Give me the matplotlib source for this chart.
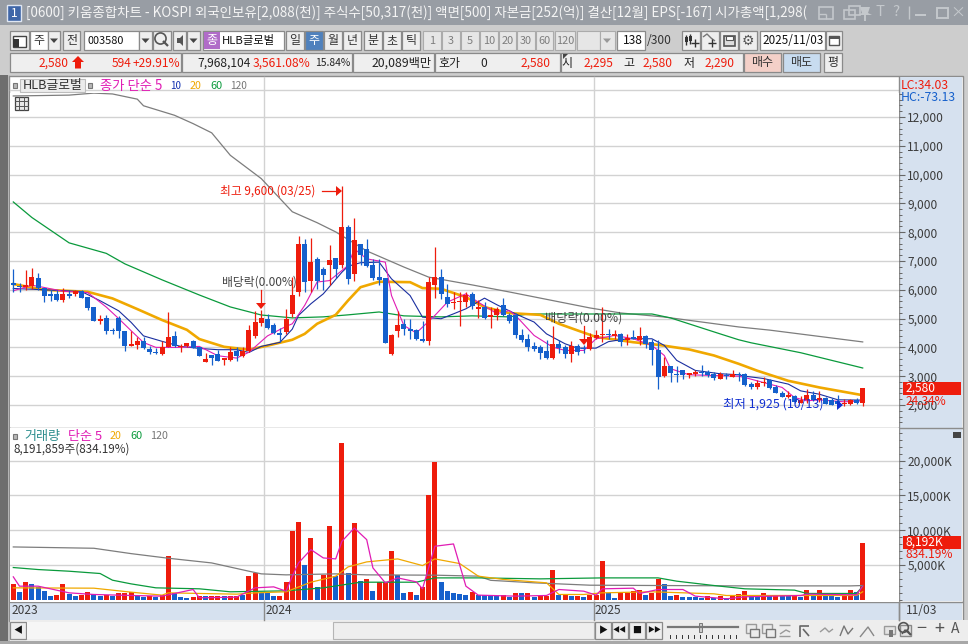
import matplotlib
matplotlib.use("Agg")
import matplotlib.pyplot as plt
from matplotlib.patches import Rectangle, Polygon
from matplotlib.ticker import FuncFormatter, MultipleLocator

plt.rcParams['font.family'] = ['Noto Sans CJK KR', 'DejaVu Sans']

# ---------- data: weekly candles ----------
opens = [6230,6115,6090,6140,6405,6060,5850,5850,5650,5850,5860,5950,5760,5400,4910,5020,4610,5020,4570,4050,
         4080,4230,3940,3830,3770,4000,4400,4010,4035,4210,4025,3490,3735,3760,3550,3570,3870,3700,3860,4380,
         4845,4990,4775,4500,4520,5155,5940,7600,6320,7075,6730,6845,7100,6845,8185,6555,7600,7425,6870,6440,
         6415,3755,4555,4800,4650,4610,4300,4210,6175,6440,5745,5525,5570,5585,5850,5350,5410,5050,5110,5470,
         5130,5130,4440,4300,4055,4020,3860,3640,4125,4010,3780,4055,3975,3950,4335,4415,4475,4380,4475,4240,
         4360,4240,4390,4185,3920,3000,3350,3070,3210,3050,3060,3140,3140,3080,2920,3040,2985,3060,3070,2725,
         2610,2780,2865,2610,2410,2270,2320,2085,2170,2340,2180,2260,2180,2155,2030,2020,2190,2060]
highs = [6716,6230,6690,6740,6580,6060,6000,6000,6060,6000,6000,6000,5760,5400,5120,5120,4690,5075,4570,4570,
         4350,4350,4035,3965,4230,5240,4580,4115,4140,4255,4025,3790,3735,3910,3630,4000,4000,4000,4775,5260,
         5295,5155,4845,4670,5330,6430,7860,7770,7790,7130,6790,7560,7100,9600,8260,8490,7600,7770,7075,7075,
         6415,4475,5250,5000,5000,4650,4900,6460,7480,6730,6200,5920,5920,5920,5920,5630,5570,5400,5400,5710,
         5200,5200,4640,4450,4200,4090,4240,4750,4240,4070,4230,4120,4070,4500,4600,5400,4640,4600,4500,4470,
         4590,4720,4440,4290,4240,3650,3350,3350,3210,3100,3210,3400,3210,3140,3140,3120,3220,3150,3100,2810,
         2870,2960,2900,2700,2500,2480,2340,2300,2540,2470,2480,2280,2240,2360,2200,2200,2260,2580]
lows = [5907,5930,6000,6020,6000,5580,5620,5620,5580,5710,5790,5720,5300,4900,4810,4460,4460,4320,3890,4040,
        3940,3940,3770,3770,3745,4000,4000,3830,4000,3965,3715,3480,3385,3540,3400,3540,3540,3680,3830,4310,
        4750,4640,4460,4175,4460,5040,5770,5920,5920,6035,5980,6170,6400,6750,6210,6290,6845,6790,6350,6170,
        4170,3720,4360,4415,4300,4250,4185,4100,5720,5690,5400,5340,4730,5400,5340,5020,5000,4680,4935,5090,
        4850,4340,4200,3860,3860,3580,3590,3600,3800,3640,3500,3740,3800,3900,4280,4200,4280,4300,4040,4070,
        4280,4100,3975,3400,2545,2960,2800,2800,2900,2950,3000,3000,2960,2880,2920,2920,2955,2850,2650,2560,
        2540,2650,2570,2400,2270,2240,2080,2060,2080,2130,2100,2020,2000,1925,1960,2000,2040,1970]
closes = [6160,6080,6160,6440,6060,5790,5790,5650,5850,5770,5950,5720,5360,4910,5000,4555,4555,4580,4050,4115,
          4230,3965,3825,3810,4000,4350,4035,4060,4140,3990,3715,3595,3630,3540,3630,3825,3710,3885,4600,4880,
          5010,4670,4510,4430,4980,5815,7600,6265,6960,6290,6520,7040,6730,8175,6380,7735,7215,6810,6415,6350,
          4170,4440,4785,4625,4580,4275,4210,6265,6440,5840,5515,5570,5620,5815,5430,5410,5030,5120,5330,5110,
          4910,4415,4265,4020,3950,3810,3640,4125,3985,3780,4035,3825,3930,4360,4440,4475,4415,4475,4185,4335,
          4280,4390,4125,3895,2960,3350,3120,3025,3025,3100,3140,3100,3025,2945,3080,2990,3060,3040,2700,2610,
          2780,2815,2585,2400,2270,2340,2110,2180,2340,2180,2240,2040,2015,2020,2075,2190,2065,2580]

ma5_idx = [0,3,5,8,12,15,17,19,21,23,27,30,33,36,38,41,44,45,47,49,51,54,55,57,60,61,63,65,68,70,73,75,78,80,81,82,84,87,89,92,94,97,100,103,105,106,109,117,118,121,124,126,128,130,134,137]
ma5_val = [5965,6160,6080,5950,5905,5400,5000,4580,4170,4000,4000,4035,3710,3630,3830,4400,4730,4820,5460,6270,6320,6845,7420,7075,6960,5800,4760,4500,5110,5570,5860,5570,5170,5280,5110,4880,4415,4010,3895,3895,4300,4415,4300,4070,3720,3260,3050,3000,2955,2780,2610,2260,2145,2180,2110,2145]
ma10_idx = [0,3,11,14,17,19,21,24,27,30,33,36,38,40,43,45,46,48,50,53,54,56,59,61,64,66,69,71,73,76,78,81,84,86,89,91,94,96,99,103,105,107,110,114,117,118,121,125,127,130,133,137]
ma10_val = [6045,6020,5940,5620,5270,4870,4400,4210,4035,3965,3920,3920,3825,4035,4175,4635,5110,5515,5860,6610,6820,6940,6960,6380,5800,5050,4995,5165,5340,5710,5480,5165,4880,4470,4125,3975,3975,4200,4300,4300,4070,3550,3200,3085,3050,3000,2920,2725,2490,2375,2180,2170]
ma20_idx = [0,3,5,12,16,20,24,28,30,34,38,41,45,47,49,52,54,56,59,64,66,69,73,76,80,85,88,91,94,97,100,104,109,113,117,120,125,130,137]
ma20_val = [6200,6080,6000,5930,5700,5330,4950,4610,4290,4020,3920,4060,4265,4470,4820,5130,5630,6090,6280,6265,6060,6035,5745,5400,5190,5130,4820,4590,4360,4275,4180,4090,3930,3720,3430,3190,2840,2610,2340]
ma60_idx = [0,3,9,15,18,24,30,35,40,45,50,54,59,63,69,74,80,83,103,106,114,117,119,127,137]
ma60_val = [9050,8510,7630,7265,6900,6345,5820,5405,5125,5025,5060,5130,5230,5095,5060,5095,5060,5160,5160,5025,4470,4265,4160,3815,3285]
ma120_idx = [0,9,13,16,20,21,26,29,32,35,40,45,49,52,57,63,67,74,80,93,98,105,117,122,137]
ma120_val = [12730,12760,12830,12800,12620,12390,12060,11770,11450,10670,9860,8710,8330,8010,7350,6790,6440,6170,5925,5370,5195,5055,4710,4600,4190]

volume = [2340,1050,2490,2200,1820,1200,480,620,2200,765,480,620,1050,765,480,720,480,910,910,1050,
          480,335,480,335,720,6360,1000,335,190,335,480,480,480,480,480,480,480,620,3490,3870,
          1000,910,480,480,2490,9940,11230,5070,8940,1910,3585,10660,3490,22560,3870,11090,2770,3060,1195,2490,
          2490,7070,3540,910,1050,620,1910,15100,19840,2490,1195,910,765,620,1050,720,670,480,480,620,
          430,910,910,910,380,480,570,4350,620,620,480,480,380,620,620,5640,910,190,910,910,
          1195,1480,620,1000,3060,2250,480,620,335,335,430,190,480,240,480,290,480,860,1195,570,
          670,910,480,620,480,480,720,430,1480,480,1480,480,480,335,720,1340,1050,8192]
vol_up = [1,0,1,0,0,0,0,1,1,0,0,1,1,0,0,1,0,1,1,1,
          0,0,1,0,1,1,0,0,0,1,1,0,1,1,0,1,1,0,1,1,
          0,0,0,1,1,1,1,0,1,0,1,1,0,1,0,1,0,1,0,1,
          1,1,0,0,1,0,1,1,1,0,0,0,0,0,1,0,0,0,0,1,
          0,1,0,1,0,1,1,1,0,1,0,1,0,1,1,1,0,0,1,1,
          1,1,0,1,1,0,0,1,0,0,0,0,1,0,1,0,1,1,1,0,
          0,1,0,1,0,0,1,0,1,0,1,0,0,0,1,1,0,1]

vma5_idx = [0,1,4,9,13,19,24,29,30,36,39,42,44,45,46,48,50,52,53,55,57,58,60,62,65,66,68,71,73,75,81,86,88,92,94,95,100,101,104,108,110,115,118,127,128,136,137]
vma5_val = [3300,1960,1960,1000,765,620,525,1480,290,380,1720,1860,1240,3390,5300,7220,6020,5880,8410,10320,8650,4590,2440,3150,2580,1580,7700,8030,1960,670,525,620,1480,1240,670,1580,1670,910,1480,1480,525,140,430,620,810,720,1960]
vma20_idx = [0,13,19,24,25,36,39,44,48,52,54,57,62,66,68,72,75,79,86,88,92,95,103,113,115,124,136,137]
vma20_val = [1720,1670,1100,670,1000,810,1000,1150,2530,3390,4730,5450,5880,4920,5880,5210,3400,2930,2440,765,765,1000,1150,860,620,620,620,1150]
vma60_idx = [0,4,9,14,16,19,23,30,35,44,50,56,65,68,75,85,95,104,107,113,118,126,128,136,137]
vma60_val = [4640,4350,4110,3780,2820,2290,1720,1580,1150,1290,1720,2530,2530,3150,3150,3010,3150,3150,2680,2055,1580,1390,910,910,1960]
vma120_idx = [0,13,19,25,32,38,40,44,52,57,68,75,77,84,93,117,135,137]
vma120_val = [7600,7410,6640,5975,5300,4110,3730,3585,3730,3585,3540,3400,2800,2440,2100,2000,2000,2050]

price_ticks = [2000,3000,4000,5000,6000,7000,8000,9000,10000,11000,12000]
volume_ticks = [5000,10000,15000,20000]
year_labels = ['2023','2024','2025']

RED='#ee1c0c'; BLUE='#1560cc'; MAG='#e01cb4'; NAVY='#1a2ea0'; GOLD='#f0a800'; GREEN='#0a9a3c'; GRAY='#7d7d7d'
GRID='#d2d2d2'; DARK='#3c3c3c'

W,H=968,644
fig=plt.figure(figsize=(W/100,H/100),dpi=100,facecolor='#cdcdcd')
rend=fig.canvas.get_renderer()

# ---------- window chrome in pixel coordinates ----------
c=fig.add_axes([0,0,1,1],zorder=0); c.set_xlim(0,W); c.set_ylim(H,0); c.axis('off')
def R(x0,y0,x1,y1,fc,ec='none',lw=0.8,z=1):
    c.add_patch(Rectangle((x0,y0),x1-x0,y1-y0,fc=fc,ec=ec,lw=lw,zorder=z))
def L(xs,ys,col='#555555',lw=1.0,z=6):
    c.plot(xs,ys,color=col,lw=lw,zorder=z,solid_capstyle='butt')
def T(x,y,s,col='#222222',w=None,px=12,ha='left',z=5,ax=None):
    t=(ax or c).text(x,y,s,color=col,fontsize=px*0.72,ha=ha,va='center',zorder=z)
    if w:
        e=t.get_window_extent(rend).width
        t.set_fontsize(px*0.72*w/e)
    return t
def B(x0,y0,x1,y1,s='',col='#333333',fc='#eeeeee',px=12):
    R(x0,y0,x1,y1,fc,'#8a8a8a',0.9)
    if s: T((x0+x1)/2,(y0+y1)/2,s,col,px=px,ha='center')
def DOWN(cx,cy,col='#444444'):
    c.add_patch(Polygon([(cx-4,cy-2),(cx+4,cy-2),(cx,cy+2.5)],fc=col,ec='none',zorder=6))
def LENS(cx,cy,col='#555555',r=8):
    c.plot([cx-2],[cy-2],marker='o',ms=r,mfc='none',mec=col,mew=1.2,zorder=6)
    L([cx+1,cx+6],[cy+1,cy+6],col,1.6)

R(0,0,W,25,'#989da4')
R(7,5,21,21,'#3f66a8','#dfe6f2',1.0)
T(14,13,'1','white',px=12,ha='center')
T(26,12.5,'[0600] 키움종합차트 - KOSPI 외국인보유[2,088(천)] 주식수[50,317(천)] 액면[500] 자본금[252(억)] 결산[12월] EPS[-167] 시가총액[1,298(','#f4f4f4',w=784)
IC='#c4c8cc'
R(819,7,833,19,'none',IC,1.2); L([819,826],[14,14],IC); L([826,826],[14,19],IC)
R(844,10,855,19,'none',IC,1.2); R(849,6,860,15,'none',IC,1.2)
c.add_patch(Polygon([(860,7),(870,7),(868,13),(872,15),(858,15),(862,13)],fc=IC,ec='none',zorder=6)); L([865,865],[15,21],IC,1.4)
T(880,12,'T',IC,px=15,ha='center',); T(896,12,'?',IC,px=15,ha='center')
L([909,909],[6,19],IC,1.0)
R(915,14,926,16,IC); R(937,8,948,18,'none',IC,1.4); T(958,12.5,'×',IC,px=15,ha='center')

# toolbar row 1
B(10,31,29,50)
R(13,36,26,47,'white','#444444',1.0); R(13,39,19,47,'#333333')
B(30,31,48,50,'주',fc='white'); B(48,31,60,50); DOWN(54,40.5)
B(63,31,80,50,'전')
B(84,31,139,50,fc='white'); T(87,40.5,'003580','#111111',w=37)
B(139,31,152,50); DOWN(145.5,40.5)
B(153,31,171,50); LENS(162,40)
B(173,31,186,50); c.add_patch(Polygon([(177,38),(180,38),(183,35),(183,46),(180,43),(177,43)],fc='#555555',ec='none',zorder=6))
B(187,31,200,50); DOWN(193.5,40.5)
R(203,31,284,50,'white','#8a8a8a',0.9); R(204,32,220,49,'#b06cc8'); T(212,40.5,'종','white',ha='center')
T(222,40.5,'HLB글로벌','#111111',w=53)
for x,s in [(286,'일'),(324,'월'),(343,'년'),(364,'분'),(383,'초'),(402,'틱')]:
    B(x,31,x+18,50,s)
B(305,31,323,50,'주','white',fc='#4f81bd')
for x,s,x1 in [(423,'1',441),(442,'3',460),(461,'5',479),(480,'10',498),(499,'20',516),(517,'30',535),(536,'60',553),(555,'120',575)]:
    R(x,31,x1,50,'#e6e6e6','#ababab',0.8); T((x+x1)/2,40.5,s,'#7d7d7d',ha='center',px=11)
R(577,31,600,50,'#e6e6e6','#ababab',0.8); R(600,31,615,50,'#e6e6e6','#ababab',0.8); DOWN(607,40.5,'#999999')
R(617,31,645,50,'white','#8a8a8a',0.9); T(643,40.5,'138','#111111',ha='right')
T(647,40.5,'/300','#333333')
for x in (682,701,720,739):
    B(x,31,x+18,50)
L([686,686],[35,45],'#333333',1.0); R(684.5,37,687.5,42,'#333333')
L([690,690],[34,44],'#333333',1.0); R(688.5,36,691.5,41,'#333333')
L([695,695],[39,47],'#333333',1.0); L([691,699],[43,43],'#333333',1.0)
L([703,707,711,715],[37,34,38,41],'#777777',1.0); L([712,712],[39,47],'#333333',1.0); L([708,716],[43,43],'#333333',1.0)
R(724,36,735,46,'#dddddd','#555555',1.2); R(726,36,733,40,'white','#555555',0.8)
T(748,40.5,'⚙','#555555',ha='center',px=14)
R(760,31,825,50,'white','#8a8a8a',0.9); T(762,40.5,'2025/11/03','#111111',w=61)
B(826,31,842,50); R(829,36,839,45,'white','#555555',1.0); R(829,36,839,38.5,'#555555')

# toolbar row 2
for x0,x1 in [(10,181),(182,352),(353,434),(435,560),(561,743)]:
    R(x0,53,x1,72,'#efefef','#8a8a8a',0.9)
T(69,63,'2,580',RED,ha='right')
c.add_patch(Polygon([(72,62),(78,56),(84,62),(81,62),(81,68.5),(75,68.5),(75,62)],fc=RED,ec='none',zorder=5))
T(131,63,'594',RED,ha='right'); T(180,63,'+29.91%',RED,ha='right')
T(251,63,'7,968,104','#222222',ha='right'); T(310,63,'3,561.08%',RED,ha='right'); T(350,63,'15.84%','#222222',ha='right',w=35)
T(432,63,'20,089백만','#222222',ha='right',w=60); T(438,63,'호가','#222222')
T(487,63,'0','#222222',ha='right'); T(551,63,'2,580',RED,ha='right')
c.add_patch(Polygon([(563,54),(568,54),(563,59)],fc='#444444',ec='none',zorder=5))
T(561.5,63,'시','#222222'); T(613,63,'2,295',RED,ha='right')
T(623,63,'고','#222222'); T(673,63,'2,580',RED,ha='right')
T(684,63,'저','#222222'); T(735,63,'2,290',RED,ha='right')
B(744,53,781,72,'매수',fc='#f4d0c8'); B(783,53,820,72,'매도',fc='#c8dcf0'); B(824,53,842,72,'평')

# frame and right scale panels
R(0,75,9,644,'#6e6e6e'); R(8,75,10,644,'#c0c0c0')
R(9,76,963,621,'white','#8c8c8c',1.0)
R(899,77,962,601,'#d6e1ef')
R(10,602,962,620,'#d6e1ef')
c.plot([10,962],[601.5,601.5],color='#8c8c8c',lw=1.0,zorder=3)
c.plot([10,962],[427.5,427.5],color='#8c8c8c',lw=1.0,zorder=7)
c.plot([899,899],[77,620],color='#8c8c8c',lw=1.0,zorder=7)
c.plot([10,899],[90,90],color=GRID,lw=1.0,zorder=2)
for gx in (264,593.5):
    c.plot([gx,gx],[77,93],color=GRID,lw=1.0,zorder=2)

# scroll bar and bottom controls
R(10,620,968,641,'#ededed')
B(10,622,26,639,'◀',col='#111111',px=9)
R(27,622,333,639,'#f6f6f6')
R(333,622,594,639,'#eeeeee','#b5b5b5',0.8)
for x,s in [(595,'▶'),(612,'◀◀'),(629,'■'),(646,'▶▶')]:
    B(x,622,x+16,639,s,col='#111111',px=7 if len(s)>1 else 9)
c.plot([668,738],[626.5,626.5],color='#777777',lw=1.6,zorder=3)
R(699,623,702,632,'#cccccc','#777777',0.7)
for x in range(670,738,6):
    c.plot([x,x],[635,638],color='#333333',lw=0.7,zorder=3)
for x in (746,762):
    R(x,624,x+10,633,'#ececec','#9a9a9a',1.0); R(x+4,629,x+13,637,'#ececec','#777777',1.0)
L([779,790],[625,625],'#9a9a9a'); L([779,790],[636,636],'#9a9a9a'); L([780,786,790],[634,630,632],'#9a9a9a')
L([800,800,809],[637,626,626],'#666666',1.2); L([803,809],[629,636],'#666666',1.2)
L([820,825,829,833],[632,628,632,629],'#9a9a9a'); L([840,844,848,853],[636,626,634,628],'#777777')
L([860,868,874],[637,627,636],'#888888')
R(884,626,895,634,'#e4e4e4','#9a9a9a',1.0)
R(889,630,893,637,'#777777')
R(885+15,625,911,636,'#e4e4e4','#888888',1.0); L([902,905,909],[634,630,632],'#555555')
LENS(905,629,'#555555',r=7)
c.artists
T(921,629,'−','#555555',px=18,ha='center'); T(939,629,'+','#555555',px=18,ha='center'); T(955,629,'A','#555555',px=14,ha='center')
R(0,641,W,644,'#a8a8a8')

# ---------- price panel ----------
X0,X1=10,899
px_i=lambda x:(x-13.3)/6.2
xlim=(px_i(X0),px_i(X1))
def add(y0,y1):
    return fig.add_axes([X0/W,1-y1/H,(X1-X0)/W,(y1-y0)/H],zorder=2)
ax=add(93,427)
ax.set_xlim(*xlim)
P=lambda y:12000-(y-117)/0.0288
ax.set_ylim(P(427),P(93))
ax.set_yticks(price_ticks)
ax.yaxis.set_minor_locator(MultipleLocator(200))
ax.yaxis.tick_right()
ax.yaxis.set_major_formatter(FuncFormatter(lambda v,_:f'{int(v):,}'))
ax.tick_params(axis='y',which='major',length=4,width=0.8,color='#666666',labelsize=8.6,labelcolor=DARK,pad=2)
ax.tick_params(axis='y',which='minor',length=2,width=0.7,color='#666666')
ax.set_xticks([])
for s in ax.spines.values(): s.set_visible(False)
ax.grid(axis='y',color=GRID,lw=1.0,zorder=0)
ax.set_axisbelow(True)
grid_x=[px_i(264),px_i(593.5)]
for gx in grid_x:
    ax.axvline(gx,color=GRID,lw=1.0,zorder=0.5)
ax.plot(ma120_idx,ma120_val,color=GRAY,lw=0.9,zorder=2)
ax.plot(ma60_idx,ma60_val,color=GREEN,lw=0.9,zorder=2)
ax.plot(ma20_idx,ma20_val,color=GOLD,lw=1.9,zorder=2.1)
ax.plot(ma10_idx,ma10_val,color=NAVY,lw=0.8,zorder=2.2)
ax.plot(ma5_idx,ma5_val,color=MAG,lw=0.8,zorder=2.3)
for i,(o,h,l,cl) in enumerate(zip(opens,highs,lows,closes)):
    col=RED if cl>=o else BLUE
    ax.vlines(i,l,h,color=col,lw=0.9,zorder=3)
    ax.bar(i,abs(cl-o),bottom=min(o,cl),width=0.8,color=col,lw=0,zorder=3.1)

# price panel overlays
c2=fig.add_axes([0,0,1,1],zorder=3); c2.set_xlim(0,W); c2.set_ylim(H,0); c2.axis('off'); c2.patch.set_alpha(0)
def T2(*a,**k):
    k['ax']=c2; return T(*a,**k)
def S(x0,y0,x1,y1,fc,ec='none',lw=0.8):
    c2.add_patch(Rectangle((x0,y0),x1-x0,y1-y0,fc=fc,ec=ec,lw=lw,zorder=4))
def Tri(pts,col):
    c2.add_patch(Polygon(pts,fc=col,ec='none',zorder=4.5))

S(13,83,17,88,'#b8b8b8','#777777')
S(20,79,85,92,'#ececec','#bdbdbd')
T2(23,85.5,'HLB글로벌','#333333',w=60)
S(88,83,92,88,'#b8b8b8','#777777')
T2(100,85.5,'종가 단순 5',MAG,w=62)
T2(170,85.5,'10','#1230b0',w=11,px=13); T2(190,85.5,'20',GOLD,w=12,px=13); T2(210,85.5,'60',GREEN,w=12,px=13); T2(230,85.5,'120','#777777',w=17,px=13)
S(15,97,28,110,'#e8e8e8','#444444',0.9)
for v in (19.3,23.6):
    c2.plot([v,v],[97,110],color='#555555',lw=0.7,zorder=5)
for v in (101.3,105.6):
    c2.plot([15,28],[v,v],color='#555555',lw=0.7,zorder=5)

T2(220,191,'최고 9,600 (03/25)',RED,w=95)
c2.plot([322,338],[191,191],color=RED,lw=0.9,zorder=4); Tri([(336,186),(336,196),(342,191)],RED)
T2(222,282,'배당락(0.00%)','#444444',w=75)
c2.plot([261,261],[290,305],color=RED,lw=0.9,zorder=4); Tri([(256,303),(266,303),(261,309)],RED)
T2(545,318,'배당락(0.00%)','#444444',w=77)
c2.plot([584,584],[326,341],color=RED,lw=0.9,zorder=4); Tri([(579,339),(589,339),(584,345)],RED)
T2(723,404,'최저 1,925 (10/13)','#1230d0',w=100)
Tri([(837,400),(837,410),(843,405)],'#1230d0')

T2(901,85,'LC:34.03',RED,w=48)
T2(901,97,'HC:-73.13','#1560cc',w=55)
S(903,382,961,395,RED)
T2(906,388.5,'2,580','white')
T2(906,401,'24.34%',RED)

# ---------- volume panel ----------
ay=add(428,601.5)
ay.set_xlim(*xlim)
V=lambda y:(599.8-y)/0.006955
ay.set_ylim(V(601.5),V(428))
ay.set_yticks(volume_ticks)
ay.yaxis.set_minor_locator(MultipleLocator(1000))
ay.yaxis.tick_right()
ay.yaxis.set_major_formatter(FuncFormatter(lambda v,_:f'{int(v):,}K'))
ay.tick_params(axis='y',which='major',length=4,width=0.8,color='#666666',labelsize=8.6,labelcolor=DARK,pad=2)
ay.tick_params(axis='y',which='minor',length=2,width=0.7,color='#666666')
ay.set_xticks([])
for s in ay.spines.values(): s.set_visible(False)
ay.grid(axis='y',color=GRID,lw=1.0,zorder=0)
ay.set_axisbelow(True)
for gx in grid_x:
    ay.axvline(gx,color=GRID,lw=1.0,zorder=0.5)
ay.bar(range(len(volume)),volume,width=0.8,color=[RED if u else BLUE for u in vol_up],lw=0,zorder=2)
ay.plot(vma120_idx,vma120_val,color=GRAY,lw=0.9,zorder=3)
ay.plot(vma60_idx,vma60_val,color=GREEN,lw=0.9,zorder=3.1)
ay.plot(vma20_idx,vma20_val,color=GOLD,lw=0.9,zorder=3.2)
ay.plot(vma5_idx,vma5_val,color=MAG,lw=0.9,zorder=3.3)

S(13,434,17,439,'#b8b8b8','#777777')
T2(24,436,'거래량','#2f8f8f',w=36)
T2(68,436,'단순 5',MAG,w=34)
T2(110,436,'20',GOLD,w=12,px=13); T2(130,436,'60',GREEN,w=12,px=13); T2(150,436,'120','#777777',w=18,px=13)
T2(14,449.5,'8,191,859주(834.19%)','#333333',w=116)
S(953,432,961,438,'#444444')
S(903,536,961,549,RED)
T2(906,542.5,'8,192K','white')
T2(906,555,'834.19%',RED)

# time axis labels and dividers
for s,x in zip(year_labels,(12,266,595)):
    T2(x,611,s,DARK)
T2(906,611,'11/03',DARK)
for x in (264,593.5,899):
    c2.plot([x,x],[602,620],color='#8c8c8c',lw=1.0,zorder=4)

fig.savefig('out.png',dpi=100,facecolor=fig.get_facecolor())
